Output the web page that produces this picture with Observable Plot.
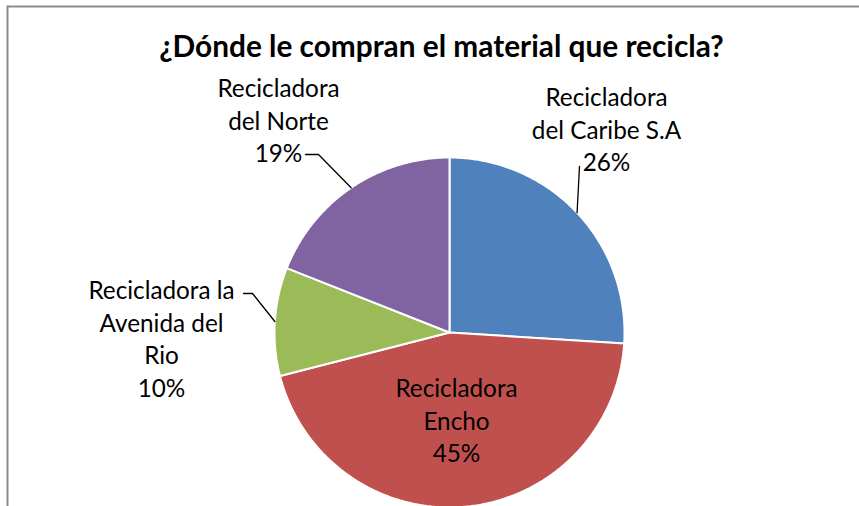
<!DOCTYPE html>
<html><head><meta charset="utf-8">
<script src="https://cdn.jsdelivr.net/npm/d3@7"></script>
<script src="https://cdn.jsdelivr.net/npm/@observablehq/plot@0.6"></script>
<style>
body{margin:0;background:#fff;overflow:hidden}
#chart svg{overflow:hidden;display:block}
</style>
</head><body><div id="chart"></div>
<script>
// ---- data ----
const title = "¿Dónde le compran el material que recicla?";
const categories = ["Recicladora del Caribe S.A", "Recicladora Encho", "Recicladora la Avenida del Rio", "Recicladora del Norte"];
const labelLines = [["Recicladora", "del Caribe S.A"], ["Recicladora", "Encho"], ["Recicladora la", "Avenida del", "Rio"], ["Recicladora", "del Norte"]];
const percents = [26, 45, 10, 19];
const colors = ["#4F81BD", "#C0504D", "#9BBB59", "#8064A2"];

// ---- layout (pixels) ----
const W = 859, H = 506, cx = 449, cy = 332, R = 175;
const FS = 24.3, LH = 32.5, TFS = 29.8;
const labelLayout = [
  {x: 606, base: 100, leader: [[579, 166]]},
  {x: 456, base: 391, leader: null},
  {x: 161, base: 293, leader: [[252, 293], [243, 293]]},
  {x: 278, base: 91, leader: [[318, 154], [305, 154]]}
];
const X = px => (px - cx) / R;
const Y = py => (cy - py) / R;

// ---- slices ----
const total = d3.sum(percents);
let acc = 0;
const slices = categories.map((c, i) => {
  const a0 = acc / total * 2 * Math.PI;
  acc += percents[i];
  const a1 = acc / total * 2 * Math.PI;
  return {name: c, i, a0, a1, mid: (a0 + a1) / 2};
});
const slicePts = [];
for (const s of slices) {
  slicePts.push({name: s.name, x: 0, y: 0});
  const n = Math.max(2, Math.ceil((s.a1 - s.a0) / (Math.PI / 360)));
  for (let k = 0; k <= n; k++) {
    const a = s.a0 + (s.a1 - s.a0) * k / n;
    slicePts.push({name: s.name, x: Math.sin(a), y: Math.cos(a)});
  }
  slicePts.push({name: s.name, x: 0, y: 0});
}

// leader lines: from slice edge at mid-angle to label
const leaderPts = [];
slices.forEach((s, i) => {
  const L = labelLayout[i].leader;
  if (!L) return;
  leaderPts.push({k: i, x: Math.sin(s.mid), y: Math.cos(s.mid)});
  for (const [px, py] of L) leaderPts.push({k: i, x: X(px), y: Y(py)});
});

const labels = slices.map((s, i) => ({
  x: X(labelLayout[i].x),
  y: Y(labelLayout[i].base - 0.71 * FS),
  text: labelLines[i].join("\n") + "\n" + percents[i] + "%"
}));

const font = "Lato, 'Open Sans', sans-serif";
const chart = Plot.plot({
  width: W, height: H,
  margin: 0,
  x: {domain: [X(0), X(W)], axis: null},
  y: {domain: [Y(H), Y(0)], axis: null},
  color: {domain: categories, range: colors},
  style: {fontFamily: font, background: "#fff"},
  marks: [
    Plot.frame({stroke: "#8c8c8c", strokeWidth: 2, insetLeft: 7, insetTop: 6, insetRight: -20, insetBottom: -20}),
    Plot.line(slicePts, {x: "x", y: "y", z: "name", fill: "name", stroke: "white", strokeWidth: 2, strokeLinejoin: "round", curve: "linear"}),
    Plot.line(leaderPts, {x: "x", y: "y", z: "k", stroke: "#000", strokeWidth: 1.3}),
    Plot.text(labels, {x: "x", y: "y", text: "text", lineAnchor: "top", lineHeight: LH / FS, fontSize: FS, fill: "#000", textAnchor: "middle"}),
    Plot.text([title], {x: X(441), y: Y(56 - 0.71 * TFS), text: d => d, lineAnchor: "top", fontSize: TFS, fontWeight: "bold", fill: "#000"})
  ]
});
document.getElementById("chart").appendChild(chart);
</script>
</body></html>
